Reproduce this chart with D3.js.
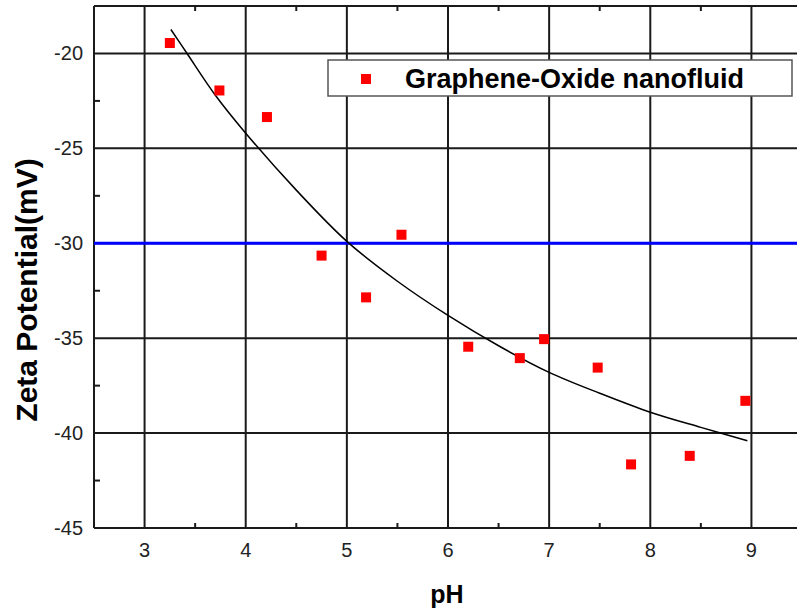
<!DOCTYPE html>
<html>
<head>
<meta charset="utf-8">
<script src="https://cdn.jsdelivr.net/npm/d3@7"></script>
<style>
  body { margin: 0; background: #fff; }
  svg { display: block; font-family: "Liberation Sans", Arial, sans-serif; }
</style>
</head>
<body>
<svg width="797" height="611"></svg>
<script>
// measured points (pH vs zeta potential)
const phValues = [3.25, 3.74, 4.21, 4.75, 5.19, 5.54, 6.20, 6.71, 6.95, 7.48, 7.81, 8.39, 8.94];
const zetaValues = [-19.45, -21.95, -23.35, -30.65, -32.85, -29.55, -35.45, -36.05, -35.05, -36.55, -41.65, -41.2, -38.3];

// fitted curve
const fitX = [3.26, 3.42, 3.7, 4.0, 4.5, 5.0, 5.5, 6.0, 6.5, 7.0, 7.5, 8.0, 8.5, 8.96];
const fitY = [-18.74, -20.0, -22.2, -24.2, -27.2, -29.9, -32.0, -33.8, -35.4, -36.8, -37.9, -38.9, -39.7, -40.4];

const xTicks = [3, 4, 5, 6, 7, 8, 9];
const yTicks = [-20, -25, -30, -35, -40, -45];
const xMinor = [2.5, 3.5, 4.5, 5.5, 6.5, 7.5, 8.5, 9.5];
const yMinor = [-22.5, -27.5, -32.5, -37.5, -42.5];
const refLine = -30;
const seriesName = "Graphene-Oxide nanofluid";

const x = d3.scaleLinear().domain([2.5, 9.5]).range([94, 802]);
const y = d3.scaleLinear().domain([-45, -17.5]).range([528, 6]);

const svg = d3.select("svg");
const ink = "#1a1a1a";

// grid at major ticks
svg.append("g").selectAll("line").data(xTicks).enter().append("line")
  .attr("x1", d => x(d)).attr("x2", d => x(d))
  .attr("y1", y(-17.5)).attr("y2", y(-45))
  .attr("stroke", ink).attr("stroke-width", 2);
svg.append("g").selectAll("line").data(yTicks).enter().append("line")
  .attr("x1", x(2.5)).attr("x2", x(9.5))
  .attr("y1", d => y(d)).attr("y2", d => y(d))
  .attr("stroke", ink).attr("stroke-width", 2);

// frame: left, top, bottom
svg.append("line").attr("x1", x(2.5)).attr("x2", x(2.5)).attr("y1", y(-17.5)).attr("y2", y(-45))
  .attr("stroke", ink).attr("stroke-width", 2);
svg.append("line").attr("x1", x(2.5)).attr("x2", x(9.5)).attr("y1", y(-17.5)).attr("y2", y(-17.5))
  .attr("stroke", ink).attr("stroke-width", 2);
svg.append("line").attr("x1", x(2.5)).attr("x2", x(9.5)).attr("y1", y(-45)).attr("y2", y(-45))
  .attr("stroke", ink).attr("stroke-width", 2);

// minor ticks pointing inward
const minor = svg.append("g").attr("stroke", ink).attr("stroke-width", 2);
minor.selectAll(".mb").data(xMinor).enter().append("line")
  .attr("x1", d => x(d)).attr("x2", d => x(d)).attr("y1", y(-45)).attr("y2", y(-45) - 5);
minor.selectAll(".mt").data(xMinor).enter().append("line")
  .attr("x1", d => x(d)).attr("x2", d => x(d)).attr("y1", y(-17.5)).attr("y2", y(-17.5) + 5);
minor.selectAll(".ml").data(yMinor).enter().append("line")
  .attr("x1", x(2.5)).attr("x2", x(2.5) + 6).attr("y1", d => y(d)).attr("y2", d => y(d));

// tick labels
svg.append("g").selectAll("text").data(xTicks).enter().append("text")
  .attr("x", d => x(d)).attr("y", 557)
  .attr("text-anchor", "middle").attr("font-size", 20).attr("fill", "#222")
  .text(d => d);
svg.append("g").selectAll("text").data(yTicks).enter().append("text")
  .attr("x", 83).attr("y", d => y(d) + 7)
  .attr("text-anchor", "end").attr("font-size", 20).attr("fill", "#222")
  .text(d => d);

// axis titles
svg.append("text").attr("x", 447).attr("y", 603)
  .attr("text-anchor", "middle").attr("font-size", 25).attr("font-weight", "bold")
  .text("pH");
svg.append("text").attr("transform", "translate(37,290) rotate(-90)")
  .attr("text-anchor", "middle").attr("font-size", 30).attr("font-weight", "bold")
  .text("Zeta Potential(mV)");

// reference line
svg.append("line").attr("x1", x(2.5)).attr("x2", x(9.5))
  .attr("y1", y(refLine)).attr("y2", y(refLine))
  .attr("stroke", "#0000ff").attr("stroke-width", 3);

// fit curve
const fitData = fitX.map((d, i) => [d, fitY[i]]);
svg.append("path").datum(fitData)
  .attr("d", d3.line().x(d => x(d[0])).y(d => y(d[1])).curve(d3.curveCatmullRom))
  .attr("fill", "none").attr("stroke", "#000").attr("stroke-width", 1.5);

// points
svg.append("g").selectAll("rect").data(phValues).enter().append("rect")
  .attr("x", (d, i) => x(d) - 5).attr("y", (d, i) => y(zetaValues[i]) - 5)
  .attr("width", 10).attr("height", 10).attr("fill", "#ff0000");

// legend
const legend = svg.append("g");
legend.append("rect").attr("x", 328).attr("y", 60).attr("width", 464).attr("height", 36)
  .attr("fill", "#fff").attr("stroke", "#555").attr("stroke-width", 1.5);
legend.append("rect").attr("x", 361).attr("y", 74).attr("width", 10).attr("height", 10).attr("fill", "#ff0000");
legend.append("text").attr("x", 405).attr("y", 88)
  .attr("font-size", 27).attr("font-weight", "bold").text(seriesName);
</script>
</body>
</html>
